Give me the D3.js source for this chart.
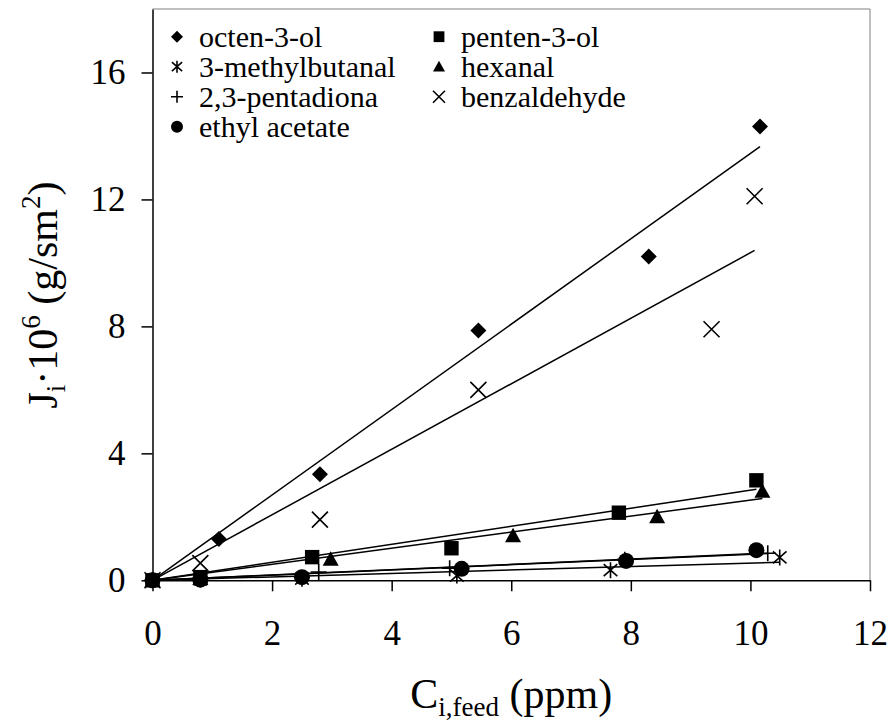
<!DOCTYPE html>
<html>
<head>
<meta charset="utf-8">
<script src="https://d3js.org/d3.v7.min.js"></script>
<style>
  body { margin: 0; background: #fff; }
  text { font-family: "Liberation Serif", "Times New Roman", serif; fill: #000; }
</style>
</head>
<body>
<script>
// C_i,feed (ppm) against J_i*10^6 (g/sm2)
const octenX = [0, 1.11, 2.8, 5.45, 8.3, 10.16];
const octenY = [0, 1.3, 3.34, 7.87, 10.2, 14.3];
const pentenX = [0, 0.8, 2.67, 5.0, 7.8, 10.1];
const pentenY = [0, 0.1, 0.73, 1.01, 2.13, 3.15];
const methylX = [0, 0.8, 2.5, 5.09, 7.66, 10.49];
const methylY = [0, 0.03, 0.05, 0.15, 0.32, 0.72];
const hexanalX = [0, 0.8, 2.98, 6.03, 8.44, 10.2];
const hexanalY = [0, 0.05, 0.66, 1.4, 2.0, 2.8];
const pentadX = [0, 0.8, 2.78, 4.97, 7.9, 10.29];
const pentadY = [0, 0.05, 0.26, 0.38, 0.65, 0.85];
const benzX = [0, 0.8, 2.8, 5.45, 9.35, 10.07];
const benzY = [0, 0.54, 1.91, 6.0, 7.91, 12.1];
const ethylX = [0, 0.8, 2.5, 5.17, 7.92, 10.1];
const ethylY = [0, 0.02, 0.1, 0.36, 0.61, 0.95];

const xTicks = [0, 2, 4, 6, 8, 10, 12];
const yTicks = [0, 4, 8, 12, 16];

const series = [
  {name: "octen-3-ol", xs: octenX, ys: octenY, sym: "diamond"},
  {name: "penten-3-ol", xs: pentenX, ys: pentenY, sym: "square"},
  {name: "3-methylbutanal", xs: methylX, ys: methylY, sym: "asterisk"},
  {name: "hexanal", xs: hexanalX, ys: hexanalY, sym: "triangle"},
  {name: "2,3-pentadiona", xs: pentadX, ys: pentadY, sym: "plus"},
  {name: "benzaldehyde", xs: benzX, ys: benzY, sym: "times"},
  {name: "ethyl acetate", xs: ethylX, ys: ethylY, sym: "circle"}
];

const width = 894, height = 723;
const plotL = 152.5, plotR = 870, plotT = 9, plotB = 580.3;
const serif = '"Liberation Serif", "Times New Roman", serif';

const svg = d3.select("body").append("svg")
  .attr("width", width)
  .attr("height", height);

const x = d3.scaleLinear().domain([0, 12]).range([plotL, plotR]);
const y = d3.scaleLinear().domain([0, 18]).range([plotB, plotT]);

// marker shapes, s = size in px
function marker(g, sym, s) {
  const h = s / 2;
  if (sym === "diamond") {
    g.append("path").attr("d", `M0,${-h}L${h},0L0,${h}L${-h},0Z`).attr("fill", "#000");
  } else if (sym === "square") {
    g.append("rect").attr("x", -h * 0.9).attr("y", -h * 0.9)
      .attr("width", s * 0.9).attr("height", s * 0.9).attr("fill", "#000");
  } else if (sym === "triangle") {
    g.append("path").attr("d", `M0,${-h}L${h},${h * 0.8}L${-h},${h * 0.8}Z`).attr("fill", "#000");
  } else if (sym === "circle") {
    g.append("circle").attr("r", h).attr("fill", "#000");
  } else if (sym === "plus") {
    g.append("path").attr("d", `M0,${-h}V${h}M${-h},0H${h}`)
      .attr("stroke", "#000").attr("stroke-width", 1.6);
  } else if (sym === "times") {
    g.append("path").attr("d", `M${-h},${-h}L${h},${h}M${-h},${h}L${h},${-h}`)
      .attr("stroke", "#000").attr("stroke-width", 1.6);
  } else if (sym === "asterisk") {
    const a = h * 0.85, b = h * 0.75;
    g.append("path").attr("d", `M0,${-h}V${h}M${-a},${-b}L${a},${b}M${-a},${b}L${a},${-b}`)
      .attr("stroke", "#000").attr("stroke-width", 1.6);
  }
}

// frame (top and right)
svg.append("path")
  .attr("d", `M${plotL},${plotT}H${plotR}V${plotB}`)
  .attr("fill", "none")
  .attr("stroke", "#808080")
  .attr("stroke-width", 1);

// trend lines through the origin
series.forEach(s => {
  const sxy = d3.sum(s.xs, (v, i) => v * s.ys[i]);
  const sxx = d3.sum(s.xs, v => v * v);
  const k = sxy / sxx;
  const xm = d3.max(s.xs);
  svg.append("line")
    .attr("x1", x(0)).attr("y1", y(0))
    .attr("x2", x(xm)).attr("y2", y(k * xm))
    .attr("stroke", "#000")
    .attr("stroke-width", 1.5);
});

// points
series.forEach(s => {
  svg.append("g").selectAll("g")
    .data(s.xs.map((v, i) => [v, s.ys[i]]))
    .join("g")
      .attr("transform", d => `translate(${x(d[0])},${y(d[1])})`)
      .each(function() { marker(d3.select(this), s.sym, 16); });
});

// axes
const xAxis = svg.append("g")
  .attr("transform", `translate(0,${plotB})`)
  .call(d3.axisBottom(x).tickValues(xTicks).tickSize(11).tickSizeOuter(0).tickPadding(29));
const yAxis = svg.append("g")
  .attr("transform", `translate(${plotL},0)`)
  .call(d3.axisLeft(y).tickValues(yTicks).tickSize(11).tickSizeOuter(0).tickPadding(16));

[xAxis, yAxis].forEach(a => {
  a.selectAll("path, line").attr("stroke", "#000").attr("stroke-width", 1.5);
  a.selectAll("text")
    .style("font-family", serif)
    .style("font-size", "35px")
    .attr("fill", "#000");
});

// legend
const legendCols = [
  ["octen-3-ol", "3-methylbutanal", "2,3-pentadiona", "ethyl acetate"],
  ["penten-3-ol", "hexanal", "benzaldehyde"]
];
const colX = [177, 439];
legendCols.forEach((col, ci) => {
  col.forEach((name, ri) => {
    const s = series.find(d => d.name === name);
    const base = 46.7 + ri * 30;
    const g = svg.append("g").attr("transform", `translate(${colX[ci]},${base - 10})`);
    marker(g, s.sym, 12);
    svg.append("text")
      .attr("x", colX[ci] + 22)
      .attr("y", base)
      .style("font-family", serif)
      .style("font-size", "30px")
      .text(name);
  });
});

// axis titles
const xt = svg.append("text")
  .attr("x", (plotL + plotR) / 2)
  .attr("y", 708)
  .attr("text-anchor", "middle")
  .style("font-family", serif)
  .style("font-size", "42px");
xt.append("tspan").text("C");
xt.append("tspan").attr("dy", 8).style("font-size", "27px").text("i,feed");
xt.append("tspan").attr("dy", -8).text(" (ppm)");

const yt = svg.append("text")
  .attr("transform", "translate(57,295) rotate(-90)")
  .attr("text-anchor", "middle")
  .style("font-family", serif)
  .style("font-size", "42px");
yt.append("tspan").text("J");
yt.append("tspan").attr("dy", 8).style("font-size", "27px").text("i");
yt.append("tspan").attr("dy", -8).text("·10");
yt.append("tspan").attr("dy", -17).style("font-size", "27px").text("6");
yt.append("tspan").attr("dy", 17).text(" (g/sm");
yt.append("tspan").attr("dy", -17).style("font-size", "27px").text("2");
yt.append("tspan").attr("dy", 17).text(")");
</script>
</body>
</html>
